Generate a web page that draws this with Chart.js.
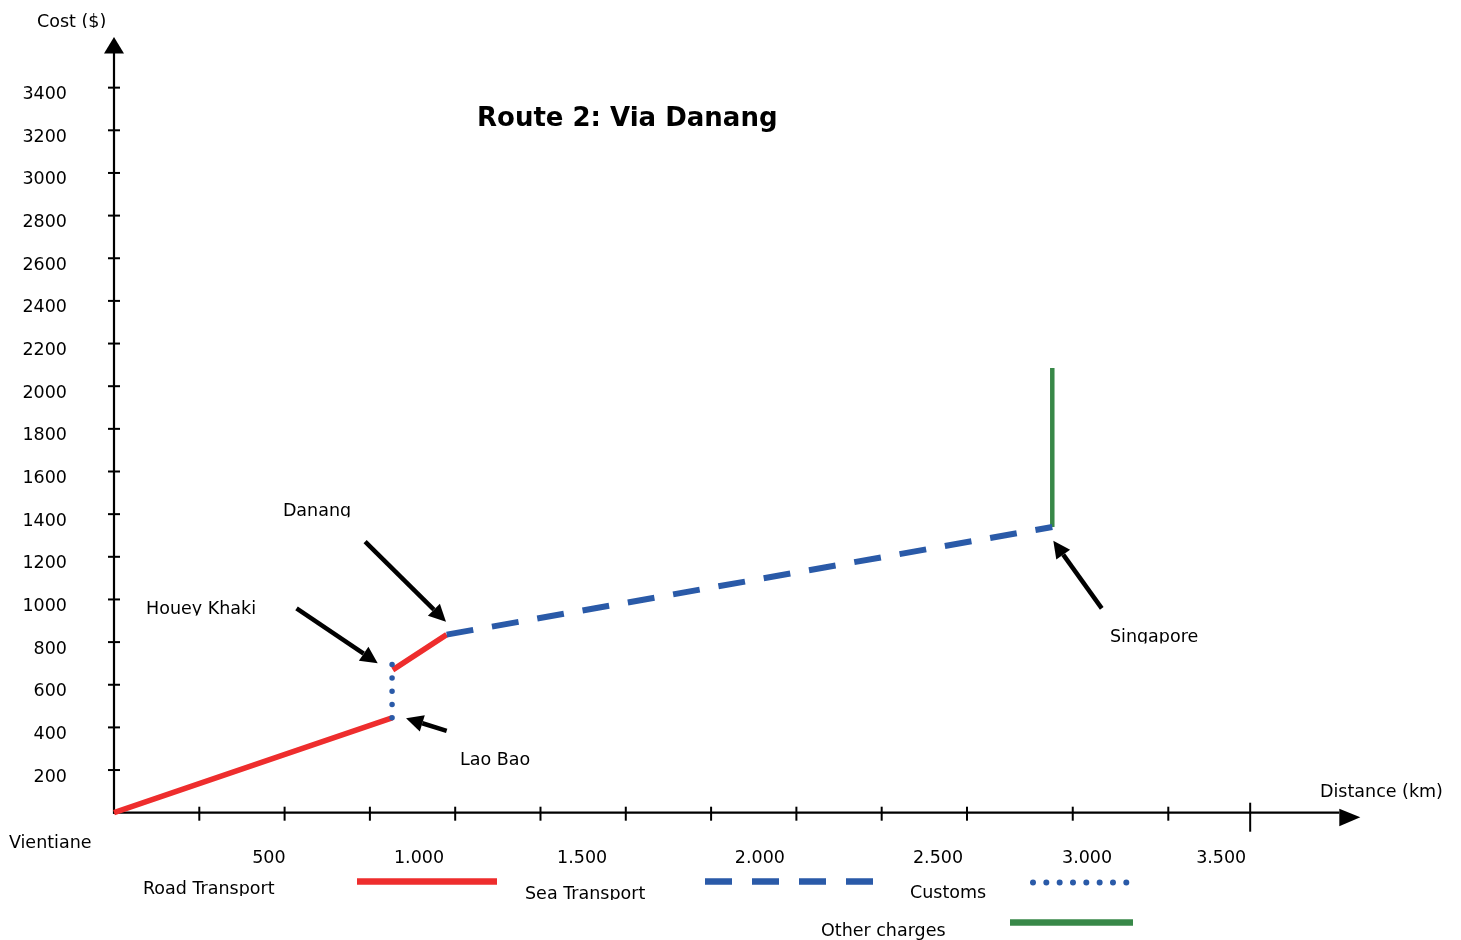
<!DOCTYPE html>
<html><head><meta charset="utf-8">
<script src="https://cdn.jsdelivr.net/npm/chart.js@4/dist/chart.umd.min.js"></script>
<style>html,body{margin:0;padding:0;background:#fff}canvas{display:block}</style>
</head><body>
<canvas id="c" width="1461" height="940"></canvas>
<script>
// ---------- data ----------
const titleText = 'Route 2: Via Danang';
const xAxisTitle = 'Distance (km)';
const yAxisTitle = 'Cost ($)';
const seriesNames = ['Road Transport', 'Sea Transport', 'Customs', 'Other charges'];

const roadTransport = [{x:0,y:0},{x:815,y:445},{x:815,y:null},{x:817,y:670},{x:975,y:835}];
const seaTransport  = [{x:975,y:835},{x:2750,y:1340}];
const customs       = [{x:815,y:445},{x:815,y:696}];
const otherCharges  = [{x:2750,y:1340},{x:2750,y:2085}];

const xTickValues  = [250,500,750,1000,1250,1500,1750,2000,2250,2500,2810,3090,3330];
const xLabelValues = [454,894,1372,1893,2415,2852,3245];
const xLabelTexts  = ['500','1.000','1.500','2.000','2.500','3.000','3.500'];
const yTickValues  = [200,400,600,800,1000,1200,1400,1600,1800,2000,2200,2400,2600,2800,3000,3200,3400];
const yTickLabels  = ['200','400','600','800','1000','1200','1400','1600','1800','2000','2200','2400','2600','2800','3000','3200','3400'];

// place names: text anchor (left, baseline) in data units
const placeNames = ['Danang','Houey Khaki','Lao Bao','Singapore','Vientiane'];
const placeTextX = [495, 94, 1014, 2919, -308];
const placeTextY = [1392, 932, 224, 800, -165];
// arrows (from -> to) in data units, null = no arrow
const arrowFromX = [736, 535, 975, 2895, null];
const arrowFromY = [1271, 958, 384, 958, null];
const arrowToX   = [973, 773, 856, 2753, null];
const arrowToY   = [896, 701, 443, 1275, null];

// ---------- styles ----------
const RED = '#EE2D2D', BLUE = '#2A5AA8', GREEN = '#388848';
const FONT = 'DejaVu Sans';

function clipText(ctx, text, x, baseline, clipBottom, font) {
  ctx.save();
  ctx.beginPath();
  ctx.rect(x - 5, 0, 2000, clipBottom);
  ctx.clip();
  ctx.font = font;
  ctx.fillStyle = '#000';
  ctx.textAlign = 'left';
  ctx.textBaseline = 'alphabetic';
  ctx.fillText(text, x, baseline);
  ctx.restore();
}
function arrow(ctx, x1, y1, x2, y2, w, hl, hw) {
  const a = Math.atan2(y2 - y1, x2 - x1);
  const bx = x2 - hl * Math.cos(a), by = y2 - hl * Math.sin(a);
  ctx.lineWidth = w; ctx.lineCap = 'butt';
  ctx.beginPath(); ctx.moveTo(x1, y1); ctx.lineTo(bx, by); ctx.stroke();
  ctx.beginPath(); ctx.moveTo(x2, y2);
  ctx.lineTo(bx - hw * Math.sin(a), by + hw * Math.cos(a));
  ctx.lineTo(bx + hw * Math.sin(a), by - hw * Math.cos(a));
  ctx.closePath(); ctx.fill();
}

const decor = {
  id: 'decor',
  beforeDatasetsDraw(chart) {
    const ctx = chart.ctx, xs = chart.scales.x, ys = chart.scales.y, ca = chart.chartArea;
    const x0 = xs.getPixelForValue(0), y0 = ys.getPixelForValue(0);
    ctx.save();
    ctx.strokeStyle = '#000'; ctx.fillStyle = '#000'; ctx.lineWidth = 2.2;
    // y axis + arrow
    ctx.beginPath(); ctx.moveTo(x0, y0 + 1); ctx.lineTo(x0, ca.top + 8); ctx.stroke();
    ctx.beginPath(); ctx.moveTo(x0, ca.top - 8); ctx.lineTo(x0 - 10, ca.top + 8.5); ctx.lineTo(x0 + 10, ca.top + 8.5); ctx.closePath(); ctx.fill();
    // x axis + arrow
    ctx.beginPath(); ctx.moveTo(x0 - 1, y0); ctx.lineTo(ca.right - 3, y0); ctx.stroke();
    ctx.beginPath(); ctx.moveTo(ca.right + 18, y0 + 4.5); ctx.lineTo(ca.right - 3, y0 - 4); ctx.lineTo(ca.right - 3, y0 + 13.5); ctx.closePath(); ctx.fill();
    // y tick crosses
    ctx.lineWidth = 2;
    yTickValues.forEach(v => {
      const p = ys.getPixelForValue(v);
      ctx.beginPath(); ctx.moveTo(x0 - 6, p); ctx.lineTo(x0 + 6, p); ctx.stroke();
    });
    // x tick crosses
    xTickValues.forEach((v, i) => {
      const p = xs.getPixelForValue(v);
      const last = i === xTickValues.length - 1;
      ctx.beginPath(); ctx.moveTo(p, y0 - (last ? 10 : 6)); ctx.lineTo(p, y0 + (last ? 19 : 8)); ctx.stroke();
    });
    ctx.restore();
  },
  afterDraw(chart) {
    const ctx = chart.ctx, xs = chart.scales.x, ys = chart.scales.y;
    const f = '17.5px "' + FONT + '"';
    ctx.save();
    // title
    ctx.font = 'bold 26px "' + FONT + '"';
    ctx.fillStyle = '#000'; ctx.textAlign = 'left'; ctx.textBaseline = 'alphabetic';
    ctx.fillText(titleText, 477, 125.5);
    // axis titles
    clipText(ctx, yAxisTitle, 37, 26.5, 28, f);
    clipText(ctx, xAxisTitle, 1320, 797, 799, f);
    // places and arrows
    ctx.strokeStyle = '#000'; ctx.fillStyle = '#000';
    placeNames.forEach((n, i) => {
      const tx = xs.getPixelForValue(placeTextX[i]), ty = ys.getPixelForValue(placeTextY[i]);
      clipText(ctx, n, tx, ty, ty + 1.5, f);
      if (arrowFromX[i] !== null) {
        arrow(ctx, xs.getPixelForValue(arrowFromX[i]), ys.getPixelForValue(arrowFromY[i]),
                   xs.getPixelForValue(arrowToX[i]), ys.getPixelForValue(arrowToY[i]), 4.5, 17, 8.5);
      }
    });
    // legend
    const ds = chart.data.datasets;
    const byName = n => ds.find(d => d.label === n);
    clipText(ctx, seriesNames[0], 143, 894, 896, f);
    clipText(ctx, seriesNames[1], 525, 898.5, 900, f);
    clipText(ctx, seriesNames[2], 910, 898, 900, f);
    clipText(ctx, seriesNames[3], 821, 936, 940, f);
    let d = byName(seriesNames[0]);
    ctx.strokeStyle = d.borderColor; ctx.lineWidth = 6.5; ctx.setLineDash([]); ctx.lineCap = 'butt';
    ctx.beginPath(); ctx.moveTo(357, 881.5); ctx.lineTo(497, 881.5); ctx.stroke();
    d = byName(seriesNames[1]);
    ctx.strokeStyle = d.borderColor; ctx.lineWidth = 6.5; ctx.setLineDash([27, 20]);
    ctx.beginPath(); ctx.moveTo(705, 881.5); ctx.lineTo(873, 881.5); ctx.stroke();
    d = byName(seriesNames[2]);
    ctx.strokeStyle = d.borderColor; ctx.lineWidth = 6; ctx.setLineDash([0, 13.33]); ctx.lineCap = 'round';
    ctx.beginPath(); ctx.moveTo(1033, 882.5); ctx.lineTo(1128, 882.5); ctx.stroke();
    d = byName(seriesNames[3]);
    ctx.strokeStyle = d.borderColor; ctx.lineWidth = 6.5; ctx.setLineDash([]); ctx.lineCap = 'butt';
    ctx.beginPath(); ctx.moveTo(1010, 922.5); ctx.lineTo(1133, 922.5); ctx.stroke();
    ctx.restore();
  }
};

const noPad = s => { s.paddingTop = 0; s.paddingBottom = 0; s.paddingLeft = 0; s.paddingRight = 0; };
const common = { pointRadius: 0, pointHoverRadius: 0, fill: false, tension: 0, clip: false, spanGaps: false };
new Chart(document.getElementById('c').getContext('2d'), {
  type: 'line',
  data: {
    datasets: [
      Object.assign({ label: seriesNames[1], data: seaTransport, borderColor: BLUE, borderWidth: 6, borderDash: [27, 19], borderCapStyle: 'butt' }, common),
      Object.assign({ label: seriesNames[2], data: customs, borderColor: BLUE, borderWidth: 5.5, borderDash: [0, 13.3], borderCapStyle: 'round' }, common),
      Object.assign({ label: seriesNames[0], data: roadTransport, borderColor: RED, borderWidth: 5.5, borderCapStyle: 'butt' }, common),
      Object.assign({ label: seriesNames[3], data: otherCharges, borderColor: GREEN, borderWidth: 4.5, borderCapStyle: 'butt' }, common)
    ]
  },
  options: {
    responsive: false,
    animation: false,
    events: [],
    layout: { padding: { left: 0, right: 118.7, top: 45, bottom: 0 } },
    plugins: { legend: { display: false }, tooltip: { enabled: false }, title: { display: false } },
    scales: {
      x: {
        type: 'linear', min: 0, max: 3600,
        grid: { display: false, drawTicks: false }, border: { display: false },
        afterBuildTicks: s => { s.ticks = xLabelValues.map(v => ({ value: v })); },
        afterFit: s => { s.height = 127.3; noPad(s); },
        ticks: { autoSkip: false, maxRotation: 0, padding: 35, color: '#000',
                 font: { family: FONT, size: 17.5 }, callback: (v, i) => xLabelTexts[i] }
      },
      y: {
        type: 'linear', min: 0, max: 3600,
        grid: { display: false, drawTicks: false }, border: { display: false },
        afterBuildTicks: s => { s.ticks = yTickValues.map(v => ({ value: v })); },
        afterFit: s => { s.width = 114; noPad(s); },
        ticks: { autoSkip: false, padding: 47, labelOffset: 7, color: '#000',
                 font: { family: FONT, size: 17.5 }, callback: (v, i) => yTickLabels[i] }
      }
    }
  },
  plugins: [decor]
});
</script>
</body></html>
